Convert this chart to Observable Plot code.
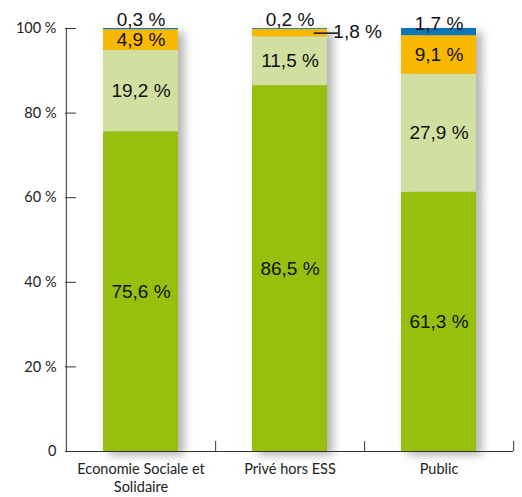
<!DOCTYPE html>
<html>
<head>
<meta charset="utf-8">
<script src="https://cdn.jsdelivr.net/npm/d3@7"></script>
<script src="https://cdn.jsdelivr.net/npm/@observablehq/plot@0.6"></script>
<style>
  html, body { margin: 0; padding: 0; background: #fff; }
</style>
</head>
<body>
<div id="chart"></div>
<script>
// Categories along the x axis and how their labels wrap
const categories = ["Economie Sociale et Solidaire", "Privé hors ESS", "Public"];
const categoryLabels = ["Economie Sociale et\nSolidaire", "Privé hors ESS", "Public"];

// Stacked segments, bottom to top (percent of each column)
const segments = ["seg1", "seg2", "seg3", "seg4"];
const seg1 = [75.6, 86.5, 61.3];
const seg2 = [19.2, 11.5, 27.9];
const seg3 = [4.9, 1.8, 9.1];
const seg4 = [0.3, 0.2, 1.7];
const segColors = ["#97BF0D", "#D1E0A0", "#F9B800", "#1075B5"];

// Y axis ticks
const yTicks = [0, 20, 40, 60, 80, 100];

const series = [seg1, seg2, seg3, seg4];
const rows = [];
categories.forEach((cat, i) => {
  segments.forEach((seg, j) => rows.push({cat, seg, value: series[j][i]}));
});

const fmt = v => `${String(v).replace(".", ",")} %`;
const labelOf = new Map(categories.map((c, i) => [c, categoryLabels[i]]));

// Layout
const W = 522, H = 497;
const mL = 65, mR = 9, mT = 28, mB = 46;
const plotW = W - mL - mR;
const plotH = H - mT - mB;
const padInner = 0.5, padOuter = 0.25;
const xs = Plot.scale({x: {type: "band", domain: categories, range: [mL, W - mR], paddingInner: padInner, paddingOuter: padOuter}});
const step = xs.step ?? plotW / categories.length;
const bw = xs.bandwidth ?? step * (1 - padInner);

const valueFont = {fontSize: 19, fontFamily: "Liberation Sans, Arial, sans-serif", fill: "#111"};
const axisColor = "#333";

// Small segments labelled outside their column
const topSmall = [0, 1].map(i => ({cat: categories[i], y: seg1[i] + seg2[i] + seg3[i] + seg4[i], text: fmt(seg4[i])}));
const topPublic = [{cat: categories[2], y: seg1[2] + seg2[2] + seg3[2] + seg4[2], text: fmt(seg4[2])}];
const sideLabel = [{cat: categories[1], y: seg1[1] + seg2[1] + seg3[1] / 2, text: fmt(seg3[1])}];

const chart = Plot.plot({
  width: W,
  height: H,
  marginLeft: mL,
  marginRight: mR,
  marginTop: mT,
  marginBottom: mB,
  style: {fontFamily: "Lato, sans-serif", fontSize: "14px", color: "#222", background: "white"},
  x: {domain: categories, paddingInner: padInner, paddingOuter: padOuter, axis: null},
  y: {domain: [0, 100], axis: null},
  color: {domain: segments, range: segColors},
  marks: [
    Plot.barY(rows, {x: "cat", y: "value", fill: "seg"}),
    // y axis: labels, inward ticks and the vertical line
    Plot.axisY(yTicks, {
      tickSize: 0, tickPadding: 9, label: null,
      tickFormat: d => d === 0 ? "0" : `${d} %`, fontSize: 14.5
    }),
    Plot.tickY(yTicks, {y: d => d, insetRight: plotW - 11, stroke: axisColor}),
    Plot.tickX([categories[0]], {x: d => d, dx: -(bw / 2 + padOuter * step), stroke: axisColor}),
    // x axis: labels, baseline and separators between categories
    Plot.axisX({
      tickSize: 0, tickPadding: 10, label: null,
      tickFormat: d => labelOf.get(d), lineHeight: 1.22, fontSize: 14.5
    }),
    Plot.ruleY([0], {stroke: axisColor}),
    Plot.tickX(categories, {x: d => d, dx: step / 2, insetTop: plotH - 10, stroke: axisColor}),
    // in-segment labels
    Plot.text(rows, Plot.stackY({
      x: "cat", y: "value",
      text: d => d.value >= 4 ? fmt(d.value) : null,
      ...valueFont
    })),
    Plot.text(topSmall, {x: "cat", y: "y", text: "text", dy: -9, ...valueFont}),
    Plot.text(topPublic, {x: "cat", y: "y", text: "text", dy: -5, ...valueFont}),
    Plot.tickY(sideLabel, {x: "cat", y: "y", insetLeft: bw - 13, insetRight: -11, stroke: "#111", strokeWidth: 1.5}),
    Plot.text(sideLabel, {x: "cat", y: "y", text: "text", dx: bw / 2 + 6, dy: -1, textAnchor: "start", ...valueFont})
  ]
});

const bars = chart.querySelector('g[aria-label="bar"]');
if (bars) bars.style.filter = "drop-shadow(6px 4px 5px rgba(0,0,0,0.3))";

document.getElementById("chart").appendChild(chart);
</script>
</body>
</html>
